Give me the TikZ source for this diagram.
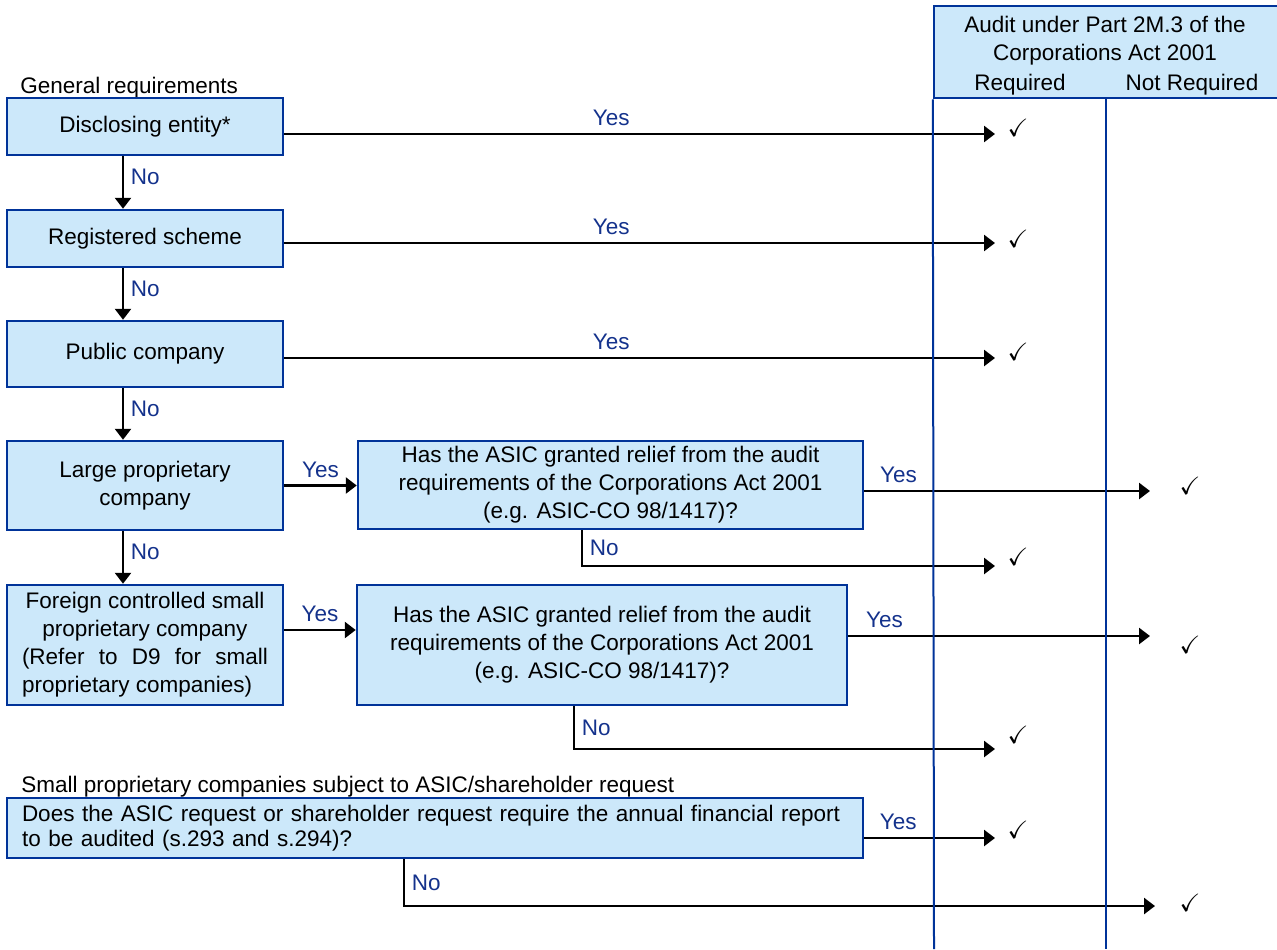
\documentclass[tikz,border=0pt]{standalone}
\usepackage{fontspec}
\setmainfont{Liberation Sans}
\usepackage{amssymb}
\usetikzlibrary{arrows.meta}
\setlength{\parindent}{0pt}
\definecolor{boxfill}{RGB}{204,232,250}
\definecolor{boxline}{RGB}{0,51,153}
\definecolor{labelblue}{RGB}{20,50,140}
\newcommand{\txtsize}{\fontsize{11.25}{14}\selectfont}
\newcommand{\asicq}{Has the ASIC granted relief from the audit\\requirements of the Corporations Act 2001\\(e.g. ASIC-CO 98/1417)?}
\tikzset{
    box/.style={draw=boxline, fill=boxfill, line width=1.25pt, rectangle, align=center, font=\txtsize, inner sep=0pt},
    lab/.style={text=labelblue, font=\txtsize},
    arr/.style={-{Triangle[length=5.5pt, width=8pt]}, line width=1.3pt},
    colline/.style={draw=boxline, line width=1pt},
    chk/.style={inner sep=0pt, font=\fontsize{12.5}{12.5}\selectfont},
    heading/.style={anchor=base west, font=\txtsize, inner sep=0pt},
    hdtext/.style={font=\txtsize, inner sep=0pt, align=center}
}

\begin{document}
\begin{tikzpicture}[x=0.5pt, y=-0.5pt]
    \useasboundingbox (0,0) rectangle (1277,949);

    % column header
    \node[box, minimum width=172.5pt, minimum height=46pt] (hdr) at (1106.5,52) {};
    \node[hdtext] (hdtitle) at (1105,41) {Audit under Part 2M.3 of the\\Corporations Act 2001};
    \node[hdtext] (hdreq) at (1020,85) {Required};
    \node[hdtext] (hdnot) at (1192,85) {Not Required};
    \coordinate (colA) at (934,949);
    \coordinate (colB) at (1106,949);

    % headings
    \node[heading] (genreq) at (20,93) {General requirements};
    \node[heading] (smallreq) at (21,792) {Small proprietary companies subject to ASIC/shareholder request};

    % decision boxes
    \node[box, minimum width=138pt, minimum height=28.5pt] (disc) at (145,126.5) {Disclosing entity*};
    \node[box, minimum width=138pt, minimum height=28.5pt] (reg) at (145,238.5) {Registered scheme};
    \node[box, minimum width=138pt, minimum height=33pt] (pub) at (145,354) {Public company};
    \node[box, minimum width=138pt, minimum height=44.5pt] (large) at (145,485.5) {Large proprietary\\company};
    \node[box, minimum width=138pt, minimum height=60pt, text width=123pt, align=justify] (foreign) at (145,645)
        {{\centering Foreign controlled small\\proprietary company\par}(Refer to D9 for small\linebreak proprietary companies)};
    \node[box, minimum width=252.5pt, minimum height=44pt] (asicA) at (610.5,485) {\asicq};
    \node[box, minimum width=245pt, minimum height=60pt] (asicB) at (602,645) {\asicq};
    \node[box, minimum width=428pt, minimum height=30pt, text width=413pt, align=left,
        font=\fontsize{11.25}{12.6}\selectfont] (askreq) at (435,828)
        {Does the ASIC request or shareholder request require the annual financial report\\to be audited (s.293 and s.294)?};

    % ticks
    \node[chk] (k1) at (1018,128) {$\checkmark$};
    \node[chk] (k2) at (1018,239) {$\checkmark$};
    \node[chk] (k3) at (1018,352) {$\checkmark$};
    \node[chk] (k4) at (1190,486) {$\checkmark$};
    \node[chk] (k5) at (1018,557) {$\checkmark$};
    \node[chk] (k6) at (1190,645) {$\checkmark$};
    \node[chk] (k7) at (1018,735) {$\checkmark$};
    \node[chk] (k8) at (1018,830) {$\checkmark$};
    \node[chk] (k9) at (1190,903) {$\checkmark$};

    % arrow ends
    \coordinate (e1) at (995,134);
    \coordinate (e2) at (995,243);
    \coordinate (e3) at (995,358);
    \coordinate (e4) at (1150,491);
    \coordinate (e5) at (995,566);
    \coordinate (e6) at (1150,636);
    \coordinate (e7) at (995,749);
    \coordinate (e8) at (995,838);
    \coordinate (e9) at (1155,906);

    % general requirements
    \draw[arr] (disc.east |- e1) -- node[lab, above, pos=0.46] {Yes} (e1);
    \draw[arr] (reg.east |- e2) -- node[lab, above, pos=0.46] {Yes} (e2);
    \draw[arr] (pub.east |- e3) -- node[lab, above, pos=0.46] {Yes} (e3);
    \draw[arr] ([xshift=-11pt]disc.south) -- node[lab, right, pos=0.4] {No} ([xshift=-11pt]reg.north);
    \draw[arr] ([xshift=-11pt]reg.south) -- node[lab, right, pos=0.4] {No} ([xshift=-11pt]pub.north);
    \draw[arr] ([xshift=-11pt]pub.south) -- node[lab, right, pos=0.4] {No} ([xshift=-11pt]large.north);
    \draw[arr] ([xshift=-11pt]large.south) -- node[lab, right, pos=0.4] {No} ([xshift=-11pt]foreign.north);

    % relief questions
    \draw[arr] (large.east) -- node[lab, above] {Yes} (large.east -| asicA.west);
    \draw[arr] (asicA.east |- e4) -- node[lab, above, pos=0.12] {Yes} (e4);
    \draw[arr] ([xshift=-14.25pt]asicA.south) |- node[lab, right, pos=0.25] {No} (e5);
    \draw[arr] ([yshift=7.5pt]foreign.east) -- node[lab, above] {Yes} ([yshift=7.5pt]foreign.east -| asicB.west);
    \draw[arr] (asicB.east |- e6) -- node[lab, above, pos=0.12] {Yes} (e6);
    \draw[arr] ([xshift=-14pt]asicB.south) |- node[lab, right, pos=0.25] {No} (e7);

    % small proprietary
    \draw[arr] (askreq.east |- e8) -- node[lab, above, pos=0.26] {Yes} (e8);
    \draw[arr] ([xshift=-15.5pt]askreq.south) |- node[lab, right, pos=0.25] {No} (e9);

    % columns
    \draw[colline] (hdr.south west) -- (colA);
    \draw[colline] (hdr.south -| colB) -- (colB);
\end{tikzpicture}
\end{document}
